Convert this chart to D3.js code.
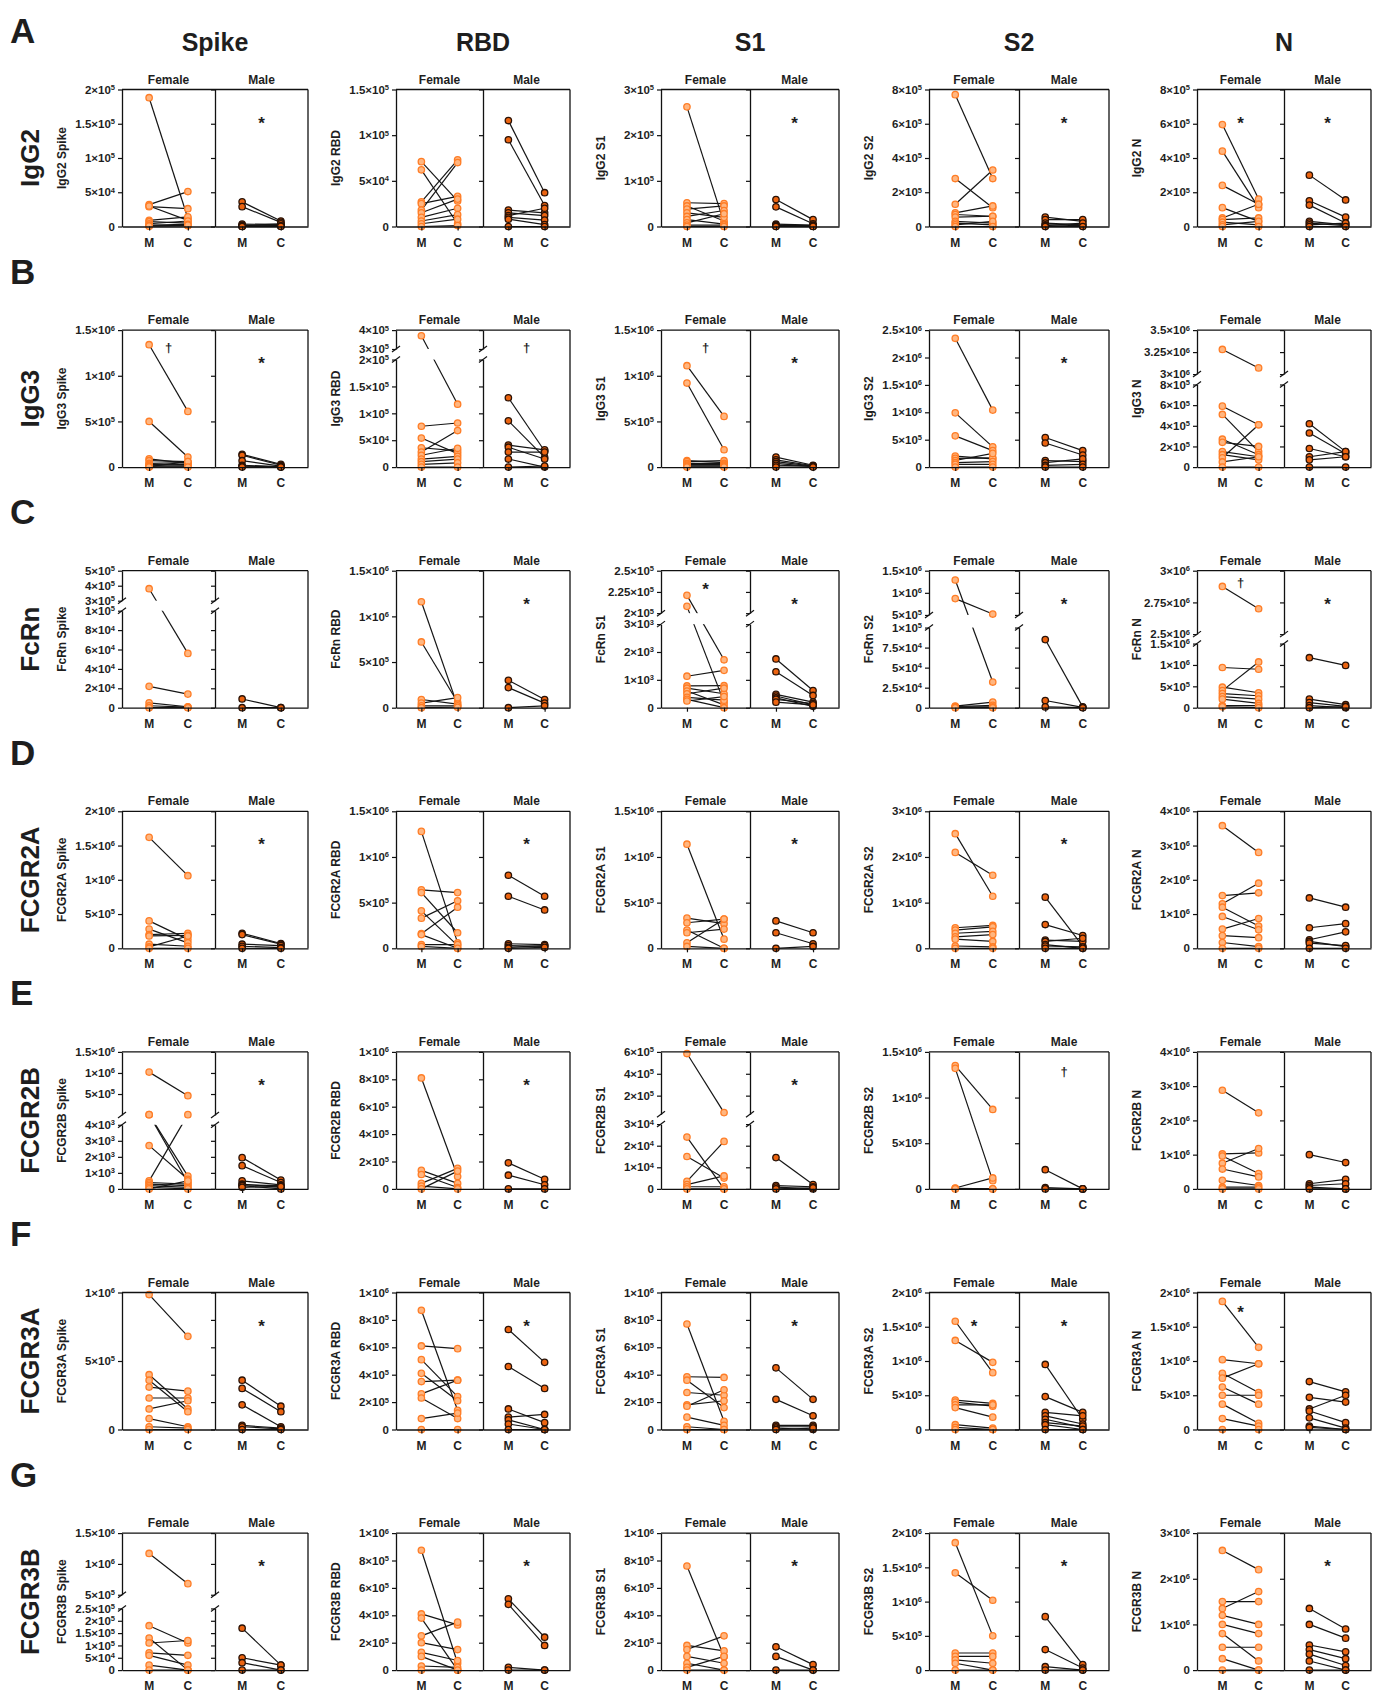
<!DOCTYPE html>
<html>
<head>
<meta charset="utf-8">
<script src="https://cdn.jsdelivr.net/npm/d3@7"></script>
<style>
  body { margin: 0; background: #fff; }
  svg { display: block; font-family: "Liberation Sans", Arial, sans-serif; }
</style>
</head>
<body>
<svg id="fig" width="1373" height="1694"></svg>
<script>
// ---------- categories ----------
const ROWS = ["IgG2", "IgG3", "FcRn", "FCGR2A", "FCGR2B", "FCGR3A", "FCGR3B"];
const ROW_LETTERS = ["A", "B", "C", "D", "E", "F", "G"];
const COLS = ["Spike", "RBD", "S1", "S2", "N"];
const GROUPS = ["Female", "Male"];
const TIMEPOINTS = ["M", "C"];

// ---------- tick values (one entry per antigen); broken axes list low / high segments ----------
const TICKS_IgG2 = [
  [0, 5e4, 1e5, 1.5e5, 2e5],
  [0, 5e4, 1e5, 1.5e5],
  [0, 1e5, 2e5, 3e5],
  [0, 2e5, 4e5, 6e5, 8e5],
  [0, 2e5, 4e5, 6e5, 8e5]
];
const TICKS_IgG3 = [
  [0, 5e5, 1e6, 1.5e6],
  { lowDomain: [0, 2e5], highDomain: [3e5, 4e5], low: [0, 5e4, 1e5, 1.5e5, 2e5], high: [3e5, 4e5] },
  [0, 5e5, 1e6, 1.5e6],
  [0, 5e5, 1e6, 1.5e6, 2e6, 2.5e6],
  { lowDomain: [0, 8e5], highDomain: [3e6, 3.5e6], low: [0, 2e5, 4e5, 6e5, 8e5], high: [3e6, 3.25e6, 3.5e6] }
];
const TICKS_FcRn = [
  { lowDomain: [0, 1e5], highDomain: [3e5, 5e5], low: [0, 2e4, 4e4, 6e4, 8e4, 1e5], high: [3e5, 4e5, 5e5] },
  [0, 5e5, 1e6, 1.5e6],
  { lowDomain: [0, 3e3], highDomain: [2e5, 2.5e5], low: [0, 1e3, 2e3, 3e3], high: [2e5, 2.25e5, 2.5e5] },
  { lowDomain: [0, 1e5], highDomain: [5e5, 1.5e6], low: [0, 2.5e4, 5e4, 7.5e4, 1e5], high: [5e5, 1e6, 1.5e6] },
  { lowDomain: [0, 1.5e6], highDomain: [2.5e6, 3e6], low: [0, 5e5, 1e6, 1.5e6], high: [2.5e6, 2.75e6, 3e6] }
];
const TICKS_FCGR2A = [
  [0, 5e5, 1e6, 1.5e6, 2e6],
  [0, 5e5, 1e6, 1.5e6],
  [0, 5e5, 1e6, 1.5e6],
  [0, 1e6, 2e6, 3e6],
  [0, 1e6, 2e6, 3e6, 4e6]
];
const TICKS_FCGR2B = [
  { lowDomain: [0, 4e3], highDomain: [4e3, 1.5e6], low: [0, 1e3, 2e3, 3e3, 4e3], high: [5e5, 1e6, 1.5e6] },
  [0, 2e5, 4e5, 6e5, 8e5, 1e6],
  { lowDomain: [0, 3e4], highDomain: [3e4, 6e5], low: [0, 1e4, 2e4, 3e4], high: [2e5, 4e5, 6e5] },
  [0, 5e5, 1e6, 1.5e6],
  [0, 1e6, 2e6, 3e6, 4e6]
];
const TICKS_FCGR3A = [
  [0, 5e5, 1e6],
  [0, 2e5, 4e5, 6e5, 8e5, 1e6],
  [0, 2e5, 4e5, 6e5, 8e5, 1e6],
  [0, 5e5, 1e6, 1.5e6, 2e6],
  [0, 5e5, 1e6, 1.5e6, 2e6]
];
const TICKS_FCGR3B = [
  { lowDomain: [0, 2.5e5], highDomain: [5e5, 1.5e6], low: [0, 5e4, 1e5, 1.5e5, 2e5, 2.5e5], high: [5e5, 1e6, 1.5e6] },
  [0, 2e5, 4e5, 6e5, 8e5, 1e6],
  [0, 2e5, 4e5, 6e5, 8e5, 1e6],
  [0, 5e5, 1e6, 1.5e6, 2e6],
  [0, 1e6, 2e6, 3e6]
];
// the male graph of FCGR3A Spike carries its own tick set
const MALE_TICKS_FCGR3A_Spike = [0, 2e5, 4e5, 6e5, 8e5, 1e6];

// ---------- paired values [M, C] per subject ----------
// IgG2
const IgG2_Spike_F = [[188000,12000],[32000,51000],[29000,26000],[30000,9000],[9000,14000],[7000,5000],[4000,8000],[2000,3000],[1000,1000],[500,2000]];
const IgG2_Spike_M = [[36000,8000],[29000,6000],[3500,3000],[2000,1500],[1000,4000],[500,1000],[300,500],[0,200]];
const IgG2_RBD_F = [[71000,28000],[62000,3000],[27000,73000],[25000,33000],[18000,70000],[15000,30000],[10000,20000],[6000,13000],[3000,8000],[0,1000]];
const IgG2_RBD_M = [[116000,37000],[95000,23000],[18000,15000],[15000,12000],[12000,20000],[10000,7000],[8000,2000],[0,0]];
const IgG2_S1_F = [[262000,8000],[52000,50000],[45000,12000],[38000,45000],[30000,20000],[22000,35000],[15000,5000],[8000,28000],[3000,3000],[0,0]];
const IgG2_S1_M = [[59000,15000],[43000,6000],[5000,3000],[3000,2000],[2000,1000],[1000,500],[0,200]];
const IgG2_S2_F = [[770000,280000],[280000,110000],[130000,330000],[80000,120000],[70000,60000],[55000,60000],[30000,20000],[20000,10000],[10000,30000],[0,0]];
const IgG2_S2_M = [[55000,30000],[40000,40000],[20000,10000],[10000,5000],[5000,20000],[0,0]];
const IgG2_N_F = [[595000,160000],[440000,110000],[240000,130000],[110000,30000],[50000,130000],[40000,50000],[25000,10000],[10000,30000],[0,0]];
const IgG2_N_M = [[300000,155000],[150000,55000],[125000,20000],[30000,10000],[20000,5000],[10000,20000],[0,0]];
// IgG3
const IgG3_Spike_F = [[1340000,610000],[500000,110000],[90000,40000],[70000,60000],[40000,50000],[30000,20000],[20000,30000],[10000,10000],[5000,60000],[0,0]];
const IgG3_Spike_M = [[140000,30000],[130000,20000],[70000,10000],[20000,5000],[10000,0],[0,0]];
const IgG3_RBD_F = [[370000,117000],[76000,82000],[54000,25000],[36000,30000],[28000,68000],[22000,35000],[15000,20000],[10000,15000],[5000,8000],[0,0]];
const IgG3_RBD_M = [[129000,30000],[86000,18000],[41000,32000],[37000,15000],[28000,28000],[15000,0],[0,2000]];
const IgG3_S1_F = [[1110000,555000],[920000,190000],[70000,50000],[60000,70000],[40000,40000],[30000,30000],[20000,20000],[10000,10000],[0,0]];
const IgG3_S1_M = [[110000,20000],[80000,15000],[60000,10000],[40000,5000],[20000,10000],[0,0]];
const IgG3_S2_F = [[2350000,1040000],[990000,370000],[570000,300000],[200000,150000],[160000,170000],[120000,250000],[80000,100000],[50000,50000],[0,0]];
const IgG3_S2_M = [[540000,300000],[440000,220000],[120000,100000],[80000,150000],[30000,50000],[0,0]];
const IgG3_N_F = [[3280000,3070000],[590000,410000],[510000,150000],[270000,120000],[240000,200000],[150000,100000],[120000,70000],[90000,410000],[50000,100000],[0,0]];
const IgG3_N_M = [[420000,150000],[330000,130000],[180000,100000],[100000,150000],[70000,100000],[0,0]];
// FcRn
const FcRn_Spike_F = [[380000,56000],[22000,14000],[5000,1000],[2000,500],[0,0]];
const FcRn_Spike_M = [[9000,0],[0,0]];
const FcRn_RBD_F = [[1160000,20000],[720000,60000],[90000,40000],[50000,110000],[20000,20000],[0,5000]];
const FcRn_RBD_M = [[300000,90000],[220000,50000],[0,20000]];
const FcRn_S1_F = [[221000,1720],[208000,200],[1130,1340],[780,790],[700,500],[600,100],[500,700],[370,270],[300,0],[240,400]];
const FcRn_S1_M = [[1750,615],[1290,440],[480,200],[420,100],[350,50],[300,150],[200,100]];
const FcRn_S2_F = [[1290000,32000],[870000,520000],[2000,7000],[1500,3000],[1000,1000],[0,0]];
const FcRn_S2_M = [[85000,1000],[9000,500],[1000,0]];
const FcRn_N_F = [[2876000,2700000],[940000,900000],[480000,350000],[400000,1070000],[330000,280000],[260000,200000],[200000,100000],[50000,50000],[20000,0]];
const FcRn_N_M = [[1170000,990000],[200000,70000],[120000,30000],[50000,0],[0,20000]];
// FCGR2A
const FCGR2A_Spike_F = [[1620000,1060000],[400000,130000],[280000,80000],[200000,220000],[180000,190000],[60000,30000],[20000,180000],[0,0]];
const FCGR2A_Spike_M = [[220000,70000],[200000,60000],[60000,40000],[30000,10000],[0,0]];
const FCGR2A_RBD_F = [[1280000,60000],[640000,610000],[610000,170000],[410000,30000],[330000,520000],[160000,450000],[150000,0],[40000,40000],[20000,0]];
const FCGR2A_RBD_M = [[800000,570000],[570000,420000],[50000,40000],[30000,20000],[10000,30000],[0,10000]];
const FCGR2A_S1_F = [[1140000,100000],[330000,270000],[280000,320000],[200000,0],[170000,210000],[60000,320000],[20000,0]];
const FCGR2A_S1_M = [[300000,170000],[170000,50000],[0,20000]];
const FCGR2A_S2_F = [[2510000,1140000],[2100000,1600000],[450000,500000],[400000,470000],[330000,370000],[250000,300000],[200000,150000],[50000,30000],[0,0]];
const FCGR2A_S2_M = [[1120000,50000],[520000,280000],[180000,150000],[150000,220000],[80000,0],[50000,30000],[0,0]];
const FCGR2A_N_F = [[3580000,2800000],[1540000,1620000],[1300000,1900000],[1200000,650000],[930000,540000],[560000,870000],[370000,310000],[170000,50000],[0,0]];
const FCGR2A_N_M = [[1470000,1200000],[600000,720000],[250000,480000],[200000,50000],[150000,80000],[0,0]];
// FCGR2B
const FCGR2B_Spike_F = [[1020000,460000],[10000,800],[10000,400],[2700,600],[500,10000],[400,300],[300,200],[200,100],[100,0],[0,500]];
const FCGR2B_Spike_M = [[1950,550],[1450,400],[500,250],[300,100],[250,200],[200,0],[100,150]];
const FCGR2B_RBD_F = [[810000,90000],[135000,40000],[105000,10000],[40000,150000],[20000,0],[0,130000]];
const FCGR2B_RBD_M = [[190000,70000],[100000,30000],[0,0]];
const FCGR2B_S1_F = [[585000,45000],[24000,0],[15000,5000],[3500,22000],[2000,6000],[1000,1000],[0,0]];
const FCGR2B_S1_M = [[14500,2000],[1500,1000],[800,0],[0,500]];
const FCGR2B_S2_F = [[1350000,870000],[1320000,90000],[10000,120000],[5000,0],[0,0]];
const FCGR2B_S2_M = [[210000,0],[15000,0],[0,0]];
const FCGR2B_N_F = [[2880000,2220000],[1020000,1050000],[960000,450000],[750000,1180000],[580000,350000],[250000,100000],[50000,50000],[0,0]];
const FCGR2B_N_M = [[1000000,770000],[150000,280000],[100000,150000],[50000,0],[0,0]];
// FCGR3A
const FCGR3A_Spike_F = [[985000,680000],[400000,150000],[360000,130000],[310000,280000],[230000,230000],[150000,210000],[80000,20000],[20000,10000],[0,0]];
const FCGR3A_Spike_M = [[360000,170000],[300000,130000],[180000,20000],[30000,10000],[20000,5000],[0,0]];
const FCGR3A_RBD_F = [[870000,140000],[610000,590000],[510000,240000],[410000,210000],[350000,360000],[260000,360000],[230000,80000],[80000,120000],[0,0]];
const FCGR3A_RBD_M = [[730000,490000],[460000,300000],[150000,50000],[90000,110000],[70000,0],[40000,0],[0,0]];
const FCGR3A_S1_F = [[770000,60000],[385000,380000],[360000,160000],[270000,250000],[180000,210000],[170000,290000],[90000,30000],[20000,0],[0,0]];
const FCGR3A_S1_M = [[450000,220000],[220000,100000],[30000,30000],[20000,20000],[10000,0],[0,10000]];
const FCGR3A_S2_F = [[1580000,830000],[1300000,980000],[430000,380000],[400000,340000],[360000,360000],[320000,180000],[70000,20000],[30000,0],[0,0]];
const FCGR3A_S2_M = [[950000,150000],[480000,250000],[250000,200000],[200000,80000],[150000,30000],[100000,50000],[70000,0],[0,0]];
const FCGR3A_N_F = [[1870000,1200000],[1020000,960000],[820000,540000],[750000,960000],[620000,370000],[500000,500000],[370000,90000],[160000,50000],[0,0]];
const FCGR3A_N_M = [[700000,550000],[470000,400000],[300000,500000],[270000,100000],[170000,20000],[50000,0],[30000,0]];
// FCGR3B
const FCGR3B_Spike_F = [[1170000,680000],[180000,110000],[130000,0],[110000,120000],[70000,60000],[60000,20000],[20000,0],[0,0]];
const FCGR3B_Spike_M = [[170000,20000],[50000,20000],[30000,0],[0,0]];
const FCGR3B_RBD_F = [[875000,50000],[410000,330000],[380000,0],[250000,350000],[200000,150000],[130000,70000],[100000,0],[30000,20000],[0,0]];
const FCGR3B_RBD_M = [[520000,240000],[480000,180000],[20000,0],[0,0]];
const FCGR3B_S1_F = [[760000,100000],[180000,140000],[150000,250000],[100000,50000],[50000,0],[20000,100000],[0,0]];
const FCGR3B_S1_M = [[170000,40000],[100000,0],[0,0]];
const FCGR3B_S2_F = [[1860000,500000],[1420000,1020000],[250000,250000],[200000,200000],[150000,100000],[100000,0],[0,0]];
const FCGR3B_S2_M = [[780000,80000],[300000,30000],[50000,0],[0,0]];
const FCGR3B_N_F = [[2620000,2200000],[1500000,1500000],[1350000,1720000],[1200000,1000000],[1000000,800000],[800000,200000],[500000,500000],[250000,0],[0,0]];
const FCGR3B_N_M = [[1350000,900000],[1000000,700000],[550000,400000],[450000,250000],[350000,100000],[200000,0],[0,0]];

// significance marks: [row, antigen, group, symbol]
const MARKS = [
  ["IgG2","Spike","Male","*"],["IgG2","S1","Male","*"],["IgG2","S2","Male","*"],["IgG2","N","Female","*"],["IgG2","N","Male","*"],
  ["IgG3","Spike","Female","†"],["IgG3","Spike","Male","*"],["IgG3","RBD","Male","†"],["IgG3","S1","Female","†"],["IgG3","S1","Male","*"],["IgG3","S2","Male","*"],
  ["FcRn","RBD","Male","*"],["FcRn","S1","Female","*"],["FcRn","S1","Male","*"],["FcRn","S2","Male","*"],["FcRn","N","Female","†"],["FcRn","N","Male","*"],
  ["FCGR2A","Spike","Male","*"],["FCGR2A","RBD","Male","*"],["FCGR2A","S1","Male","*"],["FCGR2A","S2","Male","*"],
  ["FCGR2B","Spike","Male","*"],["FCGR2B","RBD","Male","*"],["FCGR2B","S1","Male","*"],["FCGR2B","S2","Male","†"],
  ["FCGR3A","Spike","Male","*"],["FCGR3A","RBD","Male","*"],["FCGR3A","S1","Male","*"],["FCGR3A","S2","Female","*"],["FCGR3A","S2","Male","*"],["FCGR3A","N","Female","*"],
  ["FCGR3B","Spike","Male","*"],["FCGR3B","RBD","Male","*"],["FCGR3B","S1","Male","*"],["FCGR3B","S2","Male","*"],["FCGR3B","N","Male","*"]
];

// ---------- layout ----------
const COL_X = [122, 396, 661, 929, 1197];   // left y-axis of each antigen block
const SUB_W = [93, 87, 89, 90, 87];         // width of one sex sub-graph
const ROW_BOTTOM0 = 226.5, ROW_PITCH = 240.6, PLOT_H = 137;
// fraction of plot height where the low segment ends / the high segment starts
const BREAK_FRAC = {
  "IgG3|RBD": [0.785, 0.862], "IgG3|N": [0.603, 0.679],
  "FcRn|Spike": [0.708, 0.781], "FcRn|S1": [0.61, 0.69], "FcRn|S2": [0.585, 0.677], "FcRn|N": [0.468, 0.537],
  "FCGR2B|Spike": [0.468, 0.54], "FCGR2B|S1": [0.473, 0.545],
  "FCGR3B|Spike": [0.45, 0.55]
};
// vertical offset of significance marks below the plot top
const MARK_DY = { "*": 30, "†": 17 };
const MARK_DY_OVERRIDE = { "FcRn|S1|Female": 15, "FCGR3A|N|Female": 16, "FcRn|N|Female": 11, "FCGR2B|S2|Male": 19 };

const FEMALE_FILL = "#ffb680", FEMALE_STROKE = "#ff7d26";
const MALE_FILL = "#ec6410", MALE_STROKE = "#2a1206";
const TEXT = "#1e1e1e";

const ROW_TICKS = [TICKS_IgG2, TICKS_IgG3, TICKS_FcRn, TICKS_FCGR2A, TICKS_FCGR2B, TICKS_FCGR3A, TICKS_FCGR3B];
const DATA = {
  IgG2:   [[IgG2_Spike_F, IgG2_Spike_M],[IgG2_RBD_F, IgG2_RBD_M],[IgG2_S1_F, IgG2_S1_M],[IgG2_S2_F, IgG2_S2_M],[IgG2_N_F, IgG2_N_M]],
  IgG3:   [[IgG3_Spike_F, IgG3_Spike_M],[IgG3_RBD_F, IgG3_RBD_M],[IgG3_S1_F, IgG3_S1_M],[IgG3_S2_F, IgG3_S2_M],[IgG3_N_F, IgG3_N_M]],
  FcRn:   [[FcRn_Spike_F, FcRn_Spike_M],[FcRn_RBD_F, FcRn_RBD_M],[FcRn_S1_F, FcRn_S1_M],[FcRn_S2_F, FcRn_S2_M],[FcRn_N_F, FcRn_N_M]],
  FCGR2A: [[FCGR2A_Spike_F, FCGR2A_Spike_M],[FCGR2A_RBD_F, FCGR2A_RBD_M],[FCGR2A_S1_F, FCGR2A_S1_M],[FCGR2A_S2_F, FCGR2A_S2_M],[FCGR2A_N_F, FCGR2A_N_M]],
  FCGR2B: [[FCGR2B_Spike_F, FCGR2B_Spike_M],[FCGR2B_RBD_F, FCGR2B_RBD_M],[FCGR2B_S1_F, FCGR2B_S1_M],[FCGR2B_S2_F, FCGR2B_S2_M],[FCGR2B_N_F, FCGR2B_N_M]],
  FCGR3A: [[FCGR3A_Spike_F, FCGR3A_Spike_M],[FCGR3A_RBD_F, FCGR3A_RBD_M],[FCGR3A_S1_F, FCGR3A_S1_M],[FCGR3A_S2_F, FCGR3A_S2_M],[FCGR3A_N_F, FCGR3A_N_M]],
  FCGR3B: [[FCGR3B_Spike_F, FCGR3B_Spike_M],[FCGR3B_RBD_F, FCGR3B_RBD_M],[FCGR3B_S1_F, FCGR3B_S1_M],[FCGR3B_S2_F, FCGR3B_S2_M],[FCGR3B_N_F, FCGR3B_N_M]]
};
const MALE_TICKS = { "FCGR3A|Spike": MALE_TICKS_FCGR3A_Spike };

const svg = d3.select("#fig");

// "1.5×10⁵"-style tick labels with a raised exponent
function splitSci(v) {
  if (v === 0) return null;
  const e = Math.floor(Math.log10(v) + 1e-9);
  const m = +(v / Math.pow(10, e)).toFixed(2);
  return [String(m), String(e)];
}
function styleAxis(g, withLabels) {
  g.attr("font-family", null).attr("font-size", null);
  g.selectAll(".domain").attr("stroke", "#111").attr("stroke-width", 1.3);
  g.selectAll(".tick line").attr("stroke", "#111").attr("stroke-width", 1.2);
  if (!withLabels) { g.selectAll(".tick text").remove(); return; }
  g.selectAll(".tick text").each(function(d) {
    const t = d3.select(this).text("").attr("fill", TEXT)
      .attr("font-size", 11.5).attr("font-weight", "bold");
    const s = splitSci(d);
    if (!s) { t.text("0"); return; }
    t.append("tspan").text(s[0] + "×10");
    t.append("tspan").attr("dy", "-0.5em").attr("font-size", 7.5).text(s[1]);
  });
}

// piecewise linear y for broken axes
function buildY(spec, frac, top, bottom) {
  const H = bottom - top;
  if (Array.isArray(spec)) {
    const s = d3.scaleLinear().domain([0, spec[spec.length - 1]]).range([bottom, top]);
    return { f: v => s(v), segs: [{ scale: s, ticks: spec }], gap: null };
  }
  const lo = d3.scaleLinear().domain(spec.lowDomain).range([bottom, bottom - frac[0] * H]);
  const hi = d3.scaleLinear().domain(spec.highDomain).range([bottom - frac[1] * H, top]);
  return {
    f: v => (v <= spec.lowDomain[1] ? lo(v) : hi(Math.max(v, spec.highDomain[0]))),
    segs: [{ scale: lo, ticks: spec.low }, { scale: hi, ticks: spec.high }],
    gap: [bottom - frac[1] * H, bottom - frac[0] * H]
  };
}

// column headers
COLS.forEach((col, c) => {
  svg.append("text").attr("x", COL_X[c] + SUB_W[c]).attr("y", 51)
    .attr("text-anchor", "middle").attr("font-size", 25).attr("font-weight", "bold")
    .attr("fill", TEXT).text(col);
});

ROWS.forEach((row, r) => {
  const bottom = ROW_BOTTOM0 + r * ROW_PITCH;
  const top = bottom - PLOT_H;
  const cy = (top + bottom) / 2;

  svg.append("text").attr("x", 10).attr("y", bottom - 183.5)
    .attr("font-size", 35).attr("font-weight", "bold").attr("fill", TEXT).text(ROW_LETTERS[r]);
  svg.append("text").attr("transform", `translate(39,${cy}) rotate(-90)`)
    .attr("text-anchor", "middle").attr("font-size", 26).attr("font-weight", "bold")
    .attr("fill", TEXT).text(row);

  COLS.forEach((col, c) => {
    const key = row + "|" + col;
    const x0 = COL_X[c], w = SUB_W[c];
    const Y = buildY(ROW_TICKS[r][c], BREAK_FRAC[key], top, bottom);
    const g = svg.append("g");
    const lineLayer = g.append("g"), maskLayer = g.append("g"), pointLayer = g.append("g"), axisLayer = g.append("g");

    // y title
    g.append("text").attr("transform", `translate(${x0 - 56},${cy}) rotate(-90)`)
      .attr("text-anchor", "middle").attr("font-size", 12).attr("font-weight", "bold")
      .attr("fill", TEXT).text(row + " " + col);

    // frame: top edge and right edge
    axisLayer.append("line").attr("x1", x0).attr("x2", x0 + 2 * w).attr("y1", top).attr("y2", top)
      .attr("stroke", "#111").attr("stroke-width", 1.3);
    axisLayer.append("line").attr("x1", x0 + 2 * w).attr("x2", x0 + 2 * w).attr("y1", top).attr("y2", bottom)
      .attr("stroke", "#111").attr("stroke-width", 1.3);

    GROUPS.forEach((grp, k) => {
      const gx = x0 + k * w;
      const xs = d3.scalePoint().domain(TIMEPOINTS).range([gx, gx + w]).padding(0.7);
      const pairs = DATA[row][c][k];
      const female = k === 0;

      g.append("text").attr("x", gx + w / 2).attr("y", top - 6).attr("text-anchor", "middle")
        .attr("font-size", 12).attr("font-weight", "bold").attr("fill", TEXT).text(grp);

      // x axis
      const xa = axisLayer.append("g").attr("transform", `translate(0,${bottom})`)
        .call(d3.axisBottom(xs).tickSize(4).tickSizeOuter(0));
      styleAxis(xa, false);
      TIMEPOINTS.forEach(t => {
        axisLayer.append("text").attr("x", xs(t)).attr("y", bottom + 20).attr("text-anchor", "middle")
          .attr("font-size", 12).attr("font-weight", "bold").attr("fill", TEXT).text(t);
      });

      // y axis (labels on the female graph only)
      Y.segs.forEach(seg => {
        let ticks = seg.ticks;
        if (!female && MALE_TICKS[key]) ticks = MALE_TICKS[key];
        const ya = axisLayer.append("g").attr("transform", `translate(${gx},0)`)
          .call(d3.axisLeft(seg.scale).tickValues(ticks).tickSize(4).tickSizeOuter(0));
        styleAxis(ya, female);
      });

      // connecting lines
      lineLayer.selectAll(null).data(pairs).join("line")
        .attr("x1", xs("M")).attr("x2", xs("C"))
        .attr("y1", d => Y.f(d[0])).attr("y2", d => Y.f(d[1]))
        .attr("stroke", "#151515").attr("stroke-width", 1.2);

      // axis break: hide crossing lines, draw slashes
      if (Y.gap) {
        maskLayer.append("rect").attr("x", gx + 1).attr("width", w - 2)
          .attr("y", Y.gap[0]).attr("height", Y.gap[1] - Y.gap[0]).attr("fill", "#fff");
        Y.gap.forEach(yb => {
          axisLayer.append("line").attr("x1", gx - 4).attr("x2", gx + 4)
            .attr("y1", yb + 3).attr("y2", yb - 3).attr("stroke", "#111").attr("stroke-width", 1.2);
        });
      }

      // points
      const pts = [];
      pairs.forEach(p => { pts.push([xs("M"), Y.f(p[0])]); pts.push([xs("C"), Y.f(p[1])]); });
      pointLayer.selectAll(null).data(pts).join("circle")
        .attr("cx", d => d[0]).attr("cy", d => d[1]).attr("r", 3.2)
        .attr("fill", female ? FEMALE_FILL : MALE_FILL)
        .attr("stroke", female ? FEMALE_STROKE : MALE_STROKE).attr("stroke-width", 1.3);
    });
  });
});

// significance marks
MARKS.forEach(([row, col, grp, sym]) => {
  const r = ROWS.indexOf(row), c = COLS.indexOf(col), k = GROUPS.indexOf(grp);
  const top = ROW_BOTTOM0 + r * ROW_PITCH - PLOT_H;
  const cx = COL_X[c] + k * SUB_W[c] + SUB_W[c] / 2;
  const dy = MARK_DY_OVERRIDE[row + "|" + col + "|" + grp] ?? MARK_DY[sym];
  const star = sym === "*";
  svg.append("text").attr("x", cx).attr("y", top + dy + (star ? 9 : 5))
    .attr("text-anchor", "middle").attr("font-size", star ? 17 : 13).attr("font-weight", "bold")
    .attr("fill", TEXT).text(sym);
});
</script>
</body>
</html>
